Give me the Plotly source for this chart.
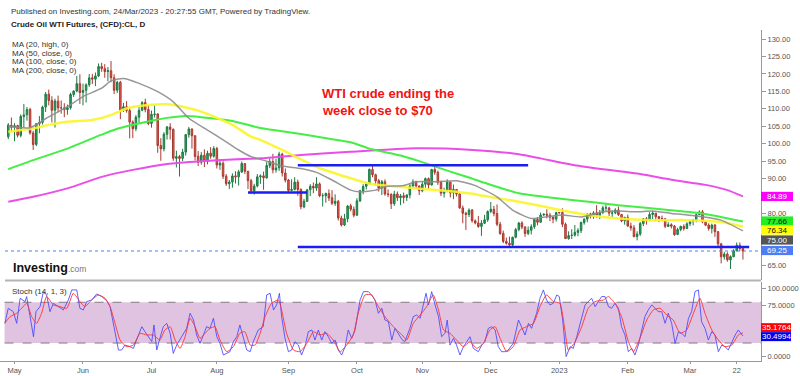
import plotly.graph_objects as go
import pandas as pd

# ---------------- data ----------------
dates = pd.bdate_range("2022-04-28", "2023-03-24")

opens = [102.0, 105.3,
    104.7, 105.2, 102.4, 107.8, 108.3, 109.8, 103.1, 99.8, 105.7, 106.1, 110.5, 114.2, 112.4, 109.6, 112.2, 110.3, 110.3, 109.8, 110.3, 114.1, 115.1, 117.2,
    114.7, 115.3, 116.9, 118.9, 118.5, 119.4, 122.1, 121.5, 120.7, 120.9, 118.9, 115.3, 117.6, 109.6, 110.6, 109.5, 106.2, 104.3, 107.6, 109.6, 111.8, 109.8,
    105.8, 108.4, 108.5, 99.5, 98.5, 102.7, 104.8, 104.1, 95.8, 96.3, 95.8, 97.6, 102.6, 104.2, 102.3, 96.4, 94.7, 96.7, 95.0, 97.3, 96.4,
    98.6, 93.9, 94.4, 90.7, 88.5, 89.0, 90.8, 90.5, 91.9, 94.3, 92.1, 89.4, 86.5, 87.9, 90.5, 90.8, 90.2, 93.7, 94.9, 92.5, 93.1, 97.0, 91.6,
    89.6, 86.6, 86.9, 89.0, 86.9, 81.9, 83.5, 86.8, 87.8, 87.3, 88.5, 85.1, 85.1, 85.7, 84.5, 82.9, 83.5, 78.7, 76.7, 78.5, 82.2, 81.2,
    79.5, 83.6, 86.5, 87.8, 88.5, 92.6, 91.1, 89.4, 87.3, 89.1, 85.6, 85.5, 82.8, 85.6, 84.5, 85.1, 84.6, 85.3, 87.9, 89.1, 87.9,
    86.5, 88.4, 90.0, 88.2, 92.6, 91.8, 88.9, 85.8, 86.5, 89.0, 85.9, 86.9, 85.6, 81.6, 80.1, 79.7, 81.0, 77.9, 77.3, 76.3, 77.2, 78.2,
    80.6, 81.2, 80.0, 76.9, 74.3, 72.0, 71.5, 71.0, 73.2, 75.4, 77.3, 76.1, 74.3, 75.2, 76.2, 78.3, 77.5, 79.6, 79.8, 79.5, 79.0, 78.4,
    80.3, 80.3, 76.9, 72.8, 73.7, 73.8, 74.6, 75.1, 77.4, 78.4, 79.9, 79.2, 80.2, 79.5, 80.3, 81.6, 81.6, 80.1, 80.2, 81.0, 79.7, 77.9,
    78.9, 76.4, 75.9, 73.4, 74.1, 77.1, 78.5, 78.1, 79.7, 80.1, 79.1, 78.6, 78.5, 76.3, 76.8, 76.4, 74.0, 75.4, 76.3, 75.7,
    77.1, 77.7, 78.2, 79.7, 80.5, 77.6, 76.7, 75.7, 76.7, 74.8, 71.3, 67.6, 68.4, 66.7, 67.6, 69.3, 70.9, 70.0]

highs = [105.9, 107.5,
    105.9, 105.4, 108.4, 111.4, 110.5, 110.3, 103.7, 105.9, 107.9, 110.9, 114.8, 115.5, 113.6, 112.9, 113.8, 112.4, 111.6, 111.2, 114.6, 115.3, 119.4, 119.9,
    117.2, 117.3, 120.0, 120.0, 120.4, 123.0, 123.2, 122.8, 122.0, 123.7, 119.9, 118.0, 118.0, 111.7, 112.2, 110.3, 106.7, 108.2, 110.5, 112.2, 112.9, 111.1,
    109.5, 111.0, 108.8, 101.6, 103.3, 105.1, 105.9, 104.4, 98.0, 96.8, 98.5, 102.8, 104.8, 104.4, 102.3, 97.9, 97.6, 98.4, 98.0, 99.0, 99.3,
    99.1, 95.1, 95.0, 91.3, 89.6, 91.5, 92.1, 92.5, 94.9, 94.4, 92.2, 89.9, 88.5, 91.3, 91.2, 92.0, 94.7, 95.8, 97.1, 95.7, 97.7, 97.4, 92.9,
    89.9, 89.8, 90.4, 89.7, 87.2, 84.2, 87.0, 88.4, 88.9, 90.4, 88.9, 85.8, 86.0, 86.9, 86.7, 85.5, 83.9, 79.4, 79.9, 82.4, 82.8, 82.0,
    84.4, 86.8, 88.4, 89.0, 92.9, 93.6, 91.4, 89.9, 89.6, 89.8, 86.9, 85.8, 86.5, 86.3, 85.6, 86.0, 85.5, 88.4, 89.8, 89.4, 88.0,
    89.3, 90.3, 90.3, 92.8, 93.7, 92.3, 89.4, 87.4, 89.8, 89.1, 88.3, 87.0, 85.9, 82.3, 80.5, 81.5, 81.3, 78.3, 79.3, 78.1, 79.6, 80.9,
    83.3, 82.2, 82.6, 77.6, 75.1, 73.1, 73.4, 73.4, 75.9, 77.6, 77.8, 76.4, 76.3, 76.9, 78.3, 79.0, 80.3, 80.0, 81.2, 80.2, 79.1, 80.5,
    80.3, 81.5, 77.4, 74.9, 75.5, 76.7, 75.8, 77.7, 78.6, 80.0, 80.2, 80.7, 82.4, 81.0, 82.2, 82.6, 81.9, 80.9, 81.5, 82.0, 79.9, 79.1,
    79.7, 77.4, 76.7, 74.9, 77.6, 78.7, 79.0, 80.4, 80.7, 80.1, 79.2, 79.4, 78.6, 77.5, 77.2, 76.7, 75.9, 76.5, 76.9, 77.5,
    78.0, 78.4, 80.0, 80.9, 81.0, 77.9, 77.2, 77.1, 77.0, 75.0, 71.6, 69.0, 68.9, 68.0, 69.8, 71.7, 71.7, 70.1]

lows = [101.3, 103.4,
    100.7, 101.8, 101.8, 104.6, 106.6, 102.6, 98.2, 99.3, 103.0, 105.5, 109.1, 111.0, 106.1, 104.6, 109.0, 108.6, 107.6, 108.3, 109.8, 113.4, 114.7, 111.4,
    111.0, 111.8, 116.3, 117.1, 116.5, 119.1, 120.6, 118.9, 117.9, 117.6, 114.2, 114.5, 107.0, 109.1, 108.9, 101.5, 101.6, 103.6, 106.0, 109.3, 109.0, 105.3,
    104.6, 107.5, 97.4, 95.1, 97.8, 101.2, 101.2, 95.1, 93.2, 90.6, 95.0, 96.6, 101.7, 98.6, 95.2, 93.6, 94.0, 93.3, 94.1, 95.7, 96.0,
    92.9, 92.5, 89.9, 87.9, 87.0, 87.4, 88.6, 88.0, 91.6, 91.3, 87.0, 85.7, 85.4, 87.5, 88.5, 86.8, 90.0, 93.0, 91.5, 91.7, 92.2, 90.6, 88.9,
    86.1, 86.4, 86.6, 85.1, 81.2, 81.5, 83.3, 85.0, 85.8, 86.5, 84.7, 82.0, 83.1, 83.6, 82.4, 82.2, 78.0, 76.3, 76.4, 77.5, 80.6, 78.9,
    79.4, 83.3, 85.5, 86.9, 88.4, 90.4, 88.0, 86.3, 85.3, 85.1, 84.7, 81.3, 82.2, 83.6, 82.4, 82.9, 83.6, 84.3, 87.3, 87.3, 85.3,
    86.1, 87.4, 87.0, 88.0, 91.1, 88.2, 85.0, 84.6, 86.1, 84.6, 84.1, 84.9, 81.3, 77.2, 75.3, 79.0, 77.4, 76.9, 75.9, 73.6, 77.0, 77.6,
    80.1, 79.2, 76.4, 73.9, 71.5, 71.1, 70.1, 70.5, 72.9, 74.9, 75.5, 73.3, 73.8, 74.0, 75.6, 76.6, 77.4, 79.3, 78.6, 77.8, 77.2, 77.7,
    80.0, 76.1, 72.7, 72.5, 72.7, 73.4, 73.5, 74.4, 76.8, 77.5, 78.6, 78.5, 78.8, 78.4, 79.8, 80.5, 79.3, 79.0, 79.8, 79.3, 77.5, 76.8,
    76.2, 75.1, 73.2, 72.3, 73.6, 76.4, 76.8, 77.8, 78.4, 77.8, 77.5, 77.8, 75.8, 76.2, 75.7, 73.6, 73.8, 74.9, 75.1, 75.6,
    76.4, 76.6, 77.5, 79.5, 77.2, 76.4, 75.1, 74.3, 73.3, 70.6, 65.7, 66.8, 66.2, 64.1, 67.5, 69.2, 69.3, 66.8]

closes = [105.36, 104.69,
    105.17, 102.41, 107.81, 108.26, 109.77, 103.09, 99.76, 105.71, 106.13, 110.49, 114.20, 112.40, 109.59, 112.21, 110.28, 110.29, 109.77, 110.33, 114.09, 115.07, 117.20, 114.67,
    115.26, 116.87, 118.87, 118.50, 119.41, 122.11, 121.51, 120.67, 120.93, 118.93, 115.31, 117.59, 109.56, 110.60, 109.52, 106.19, 104.27, 107.62, 109.57, 111.76, 109.78, 105.76,
    108.43, 108.50, 99.50, 98.53, 102.73, 104.79, 104.09, 95.84, 96.30, 95.78, 97.59, 102.60, 104.22, 102.26, 96.35, 94.70, 96.70, 94.98, 97.26, 96.42, 98.62,
    93.89, 94.42, 90.66, 88.54, 89.01, 90.76, 90.50, 91.93, 94.34, 92.09, 89.41, 86.53, 87.85, 90.50, 90.77, 90.23, 93.74, 94.89, 92.52, 93.06, 97.01, 91.64, 89.55,
    86.61, 86.87, 89.00, 86.88, 81.94, 83.54, 86.79, 87.78, 87.31, 88.48, 85.10, 85.11, 85.73, 84.45, 82.94, 83.49, 78.74, 76.71, 78.50, 82.15, 81.23, 79.49,
    83.63, 86.52, 87.76, 88.45, 92.64, 91.13, 89.35, 87.27, 89.11, 85.61, 85.46, 82.82, 85.55, 84.51, 85.05, 84.58, 85.32, 87.91, 89.08, 87.90, 86.53,
    88.37, 90.00, 88.17, 92.61, 91.79, 88.91, 85.83, 86.47, 88.96, 85.87, 86.92, 85.59, 81.64, 80.08, 79.73, 80.95, 77.94, 77.30, 76.28, 77.24, 78.20, 80.55,
    81.22, 79.98, 76.93, 74.25, 72.01, 71.46, 71.02, 73.17, 75.39, 77.28, 76.11, 74.29, 75.19, 76.23, 78.29, 77.49, 79.56, 79.80, 79.53, 78.96, 78.40, 80.26,
    80.20, 76.93, 72.84, 73.67, 73.77, 74.63, 75.12, 77.41, 78.39, 79.86, 79.20, 80.18, 79.48, 80.33, 81.64, 81.62, 80.13, 80.15, 81.01, 79.68, 77.90, 78.87,
    76.41, 75.88, 73.39, 74.11, 77.14, 78.47, 78.06, 79.72, 80.14, 79.06, 78.59, 78.49, 76.34, 76.80, 76.36, 73.95, 75.39, 76.32, 75.68, 77.05,
    77.69, 78.16, 79.68, 80.46, 77.58, 76.66, 75.72, 76.68, 74.80, 71.33, 67.61, 68.35, 66.74, 67.64, 69.33, 70.90, 69.96, 69.26]

# moving averages (bar number, value)
ma20_idx = [0, 7, 13, 19, 24, 30, 33, 37, 42, 48, 53, 58, 64, 69, 74, 78, 83, 88, 94, 99, 104, 110, 113, 118, 121, 127, 131, 138, 144, 150, 157, 162, 168, 173, 178, 184, 191, 196, 202, 207, 213, 218, 223, 229, 236]
ma20_val = [105.0, 104.6, 107.7, 110.6, 113.5, 115.9, 118.0, 118.7, 117.3, 114.9, 112.0, 107.3, 103.9, 101.1, 98.2, 96.3, 95.0, 93.6, 92.9, 91.8, 89.6, 86.7, 86.2, 86.7, 87.7, 88.0, 89.1, 89.1, 89.4, 88.0, 84.8, 81.0, 78.6, 79.1, 79.6, 79.0, 80.5, 80.7, 80.5, 80.7, 80.0, 79.6, 79.1, 78.1, 75.0]
ma50_idx = [0, 8, 13, 19, 27, 33, 38, 45, 51, 56, 62, 72, 78, 81, 88, 99, 110, 116, 121, 131, 142, 148, 153, 164, 172, 176, 186, 196, 207, 218, 229, 236]
ma50_val = [103.4, 104.4, 105.4, 106.3, 106.8, 108.2, 110.1, 111.1, 111.3, 110.6, 109.2, 105.4, 102.0, 101.1, 98.2, 93.4, 90.1, 88.6, 88.0, 87.2, 86.4, 85.8, 85.0, 83.4, 82.0, 81.2, 79.6, 78.6, 78.1, 78.1, 77.6, 76.3]
ma100_idx = [0, 8, 19, 30, 35, 46, 51, 56, 62, 72, 81, 94, 104, 110, 116, 126, 132, 142, 148, 153, 164, 174, 181, 196, 212, 223, 236]
ma100_val = [92.7, 95.3, 98.6, 102.6, 104.3, 106.6, 107.4, 107.9, 107.6, 106.5, 104.5, 102.8, 101.3, 100.4, 98.6, 96.6, 95.0, 92.0, 90.3, 88.8, 85.8, 84.6, 83.9, 82.4, 81.0, 80.0, 77.7]
ma200_idx = [0, 8, 19, 30, 40, 51, 62, 72, 81, 94, 110, 131, 148, 164, 171, 181, 192, 203, 213, 224, 231, 236]
ma200_val = [83.4, 84.8, 87.2, 90.5, 92.5, 94.2, 95.0, 95.5, 95.8, 96.8, 97.7, 98.7, 98.3, 97.0, 95.8, 94.0, 92.6, 91.3, 89.7, 88.2, 86.7, 84.9]

# stochastic (14,1,3)
stoch_k_idx = [-1.1, 0.0, 1.6, 2.7, 3.8, 5.4, 5.9, 8.1, 8.9, 10.2, 11.3, 12.3, 13.4, 14.5, 16.1, 17.7, 19.3, 20.4, 22.0, 23.0, 24.1, 25.2, 26.8, 28.4, 30.0, 31.6, 32.7, 34.3, 35.4, 36.4, 37.5, 39.1, 40.2, 41.2, 42.9, 43.9, 45.0, 46.1, 46.8, 47.7, 48.7, 49.8, 50.9, 52.0, 53.0, 54.1, 55.7, 57.3, 58.4, 59.5, 60.5, 61.6, 62.7, 63.7, 64.8, 65.9, 67.0, 68.0, 69.1, 70.2, 71.2, 72.3, 73.4, 74.4, 75.5, 76.6, 77.7, 78.7, 80.3, 81.9, 83.0, 84.1, 85.2, 86.2, 87.1, 87.8, 88.9, 90.0, 91.0, 92.1, 93.2, 94.2, 95.3, 96.4, 97.5, 98.5, 99.6, 100.7, 101.7, 102.8, 103.9, 105.0, 106.0, 107.1, 108.2, 109.2, 110.3, 111.4, 113.0, 114.1, 115.7, 116.7, 117.8, 118.9, 120.0, 121.0, 122.1, 123.2, 124.2, 125.3, 126.5, 127.4, 129.0, 130.1, 131.2, 132.3, 133.3, 134.2, 135.0, 136.0, 137.1, 138.2, 139.2, 140.3, 141.0, 141.9, 143.0, 144.0, 145.1, 146.2, 147.3, 148.3, 149.4, 151.0, 152.1, 153.1, 154.2, 155.3, 156.4, 157.4, 158.5, 159.6, 160.6, 162.2, 163.9, 164.9, 166.0, 167.1, 168.1, 169.7, 170.8, 171.9, 172.9, 174.0, 175.1, 176.2, 177.0, 178.1, 179.2, 180.5, 181.5, 182.6, 184.2, 185.3, 186.3, 187.4, 188.5, 189.6, 190.6, 191.7, 192.8, 193.8, 194.9, 196.0, 197.0, 198.1, 199.2, 200.3, 201.3, 202.4, 203.5, 204.5, 205.6, 206.7, 207.8, 208.8, 209.9, 211.0, 212.0, 213.1, 214.2, 215.3, 216.3, 217.4, 218.5, 219.5, 220.6, 221.7, 222.7, 223.8, 224.9, 226.0, 227.0, 228.1, 229.2, 230.2, 231.3, 232.4, 233.5, 234.5, 235.6, 236.0]
stoch_k_val = [49.0, 71.2, 66.2, 49.0, 85.9, 81.0, 88.4, 29.3, 66.2, 73.6, 95.7, 90.8, 66.2, 78.5, 73.6, 68.7, 83.4, 98.2, 98.2, 71.2, 68.7, 81.0, 83.4, 92.3, 88.4, 82.5, 73.6, 34.3, 9.7, 9.7, 17.0, 14.6, 12.1, 24.4, 44.1, 36.7, 29.3, 22.0, 46.6, 9.7, 26.9, 44.1, 49.0, 34.3, 4.7, 17.0, 29.3, 41.6, 63.8, 53.9, 31.8, 19.5, 31.8, 44.1, 41.6, 56.4, 29.3, 19.5, 2.3, 4.7, 7.2, 22.0, 29.3, 46.6, 29.3, 9.7, 7.2, 22.0, 39.2, 44.1, 90.8, 93.3, 68.7, 76.1, 93.3, 58.9, 26.9, 7.2, 9.7, 22.0, 17.0, 2.3, 14.6, 36.7, 39.2, 24.4, 39.2, 24.4, 36.7, 29.3, 19.5, 24.4, 9.7, 2.3, 14.6, 39.2, 26.9, 39.2, 83.4, 95.7, 95.7, 90.8, 83.4, 63.8, 71.2, 53.9, 51.5, 24.4, 41.6, 33.0, 25.0, 22.0, 41.6, 58.9, 61.3, 56.4, 73.6, 93.3, 76.1, 95.7, 76.1, 58.9, 29.3, 34.3, 53.9, 17.0, 26.9, 17.0, 2.3, 14.6, 22.0, 29.3, 12.1, 7.2, 17.0, 22.0, 41.6, 44.1, 39.2, 14.6, 7.2, 7.2, 9.7, 19.5, 53.9, 44.1, 31.8, 49.0, 41.6, 63.8, 85.9, 98.2, 83.4, 76.1, 78.5, 90.8, 88.4, 53.9, 0.0, 14.6, 12.1, 29.3, 58.9, 76.1, 81.0, 85.9, 73.6, 81.0, 88.4, 88.4, 73.6, 71.2, 78.5, 71.2, 44.1, 31.8, 7.2, 12.1, 2.3, 17.0, 39.2, 58.9, 68.7, 76.1, 71.2, 66.2, 66.2, 49.0, 63.8, 49.0, 19.5, 36.7, 34.3, 29.3, 56.4, 66.2, 95.7, 98.2, 51.5, 41.6, 24.4, 36.7, 31.8, 7.2, 17.0, 14.6, 9.7, 22.0, 31.8, 39.2, 31.8, 30.4994]
stoch_d_idx = [-1.1, 0.6, 2.7, 4.3, 5.9, 7.5, 9.1, 10.7, 12.3, 14.5, 16.6, 18.8, 20.9, 23.0, 24.6, 26.8, 28.9, 31.1, 32.7, 34.3, 35.9, 38.0, 40.2, 42.3, 44.5, 46.6, 48.7, 50.3, 52.0, 53.6, 55.2, 56.8, 58.4, 60.0, 61.6, 63.2, 64.8, 66.4, 68.0, 70.2, 72.3, 74.4, 76.0, 77.7, 79.3, 80.9, 82.5, 84.6, 86.8, 87.8, 89.4, 91.6, 93.7, 95.9, 98.0, 100.1, 102.3, 104.4, 106.6, 108.7, 110.8, 112.4, 114.6, 116.7, 118.9, 121.0, 123.2, 125.3, 126.5, 128.0, 130.1, 132.3, 134.4, 136.5, 138.2, 139.8, 141.9, 144.0, 146.2, 148.3, 150.5, 152.6, 154.7, 156.4, 158.0, 160.1, 162.2, 164.4, 166.5, 168.7, 170.8, 172.9, 175.1, 177.2, 178.8, 179.9, 182.1, 184.2, 186.3, 188.5, 191.2, 192.8, 194.9, 197.0, 199.2, 200.8, 202.9, 205.1, 207.2, 209.4, 211.5, 213.6, 215.8, 217.9, 220.1, 222.2, 223.8, 226.0, 228.1, 230.2, 232.4, 234.5, 236.0]
stoch_d_val = [49.0, 58.9, 63.8, 71.2, 78.5, 58.9, 49.0, 63.8, 88.4, 76.1, 73.6, 71.2, 93.3, 81.0, 73.6, 83.4, 90.8, 85.9, 73.6, 49.0, 24.4, 14.6, 17.0, 34.3, 31.8, 31.8, 24.4, 39.2, 44.1, 24.4, 12.1, 29.3, 56.4, 44.1, 26.9, 34.3, 41.6, 44.1, 24.4, 7.2, 14.6, 34.3, 36.7, 17.0, 17.0, 34.3, 58.9, 78.5, 83.4, 68.7, 34.3, 9.7, 7.2, 19.5, 36.7, 31.8, 34.3, 24.4, 7.2, 17.0, 31.8, 63.8, 90.8, 90.8, 73.6, 58.9, 46.6, 36.7, 32.0, 24.4, 49.0, 61.3, 73.6, 90.8, 68.7, 39.2, 34.3, 24.4, 14.6, 22.0, 12.1, 19.5, 39.2, 44.1, 26.9, 7.2, 14.6, 39.2, 44.1, 49.0, 73.6, 90.8, 81.0, 78.5, 39.2, 9.7, 22.0, 44.1, 71.2, 81.0, 83.4, 88.4, 78.5, 58.9, 22.0, 7.2, 26.9, 53.9, 68.7, 71.2, 61.3, 53.9, 34.3, 39.2, 63.8, 85.9, 63.8, 39.2, 24.4, 14.6, 17.0, 31.8, 35.1764]

# drawn horizontal levels (price, from bar, to bar)
level_val = [93.8, 86.0, 70.4]
level_from = [93, 77, 93]
level_to = [167, 96, 238]

last_price = 69.25
price_tags = ["84.89", "77.66", "76.34", "75.00", "69.25"]
stoch_tags = ["35.1764", "30.4994"]
price_ticks = [65, 80, 90, 95, 100, 105, 110, 115, 120, 125, 130]
stoch_ticks = [0, 75, 100]
stoch_tick_text = ["0.0000", "75.0000", "100.0000"]

# ---------------- figure ----------------
W, H = 800, 376
FONT = "Liberation Sans, Arial, sans-serif"
bars = list(range(len(dates)))

tick_idx, tick_txt = [], []
for i in range(1, len(dates)):
    if dates[i].month != dates[i - 1].month:
        tick_idx.append(i)
        tick_txt.append(str(dates[i].year) if dates[i].month == 1 else dates[i].strftime("%b"))
i22 = [i for i, d in enumerate(dates) if d.month == 3 and d.year == 2023 and d.day == 22][0]
tick_idx.append(i22)
tick_txt.append("22")

def px(x):
    return x / W

def py(y):
    return 1 - y / H

XR = [-2.66, 241.8]
XD = [0, 761 / W]
PY_RANGE = [60.95, 132.58]          # 250 px tall panel
ST_RANGE = [-6.49, 109.88]          # 79 px tall panel
PPX = (PY_RANGE[1] - PY_RANGE[0]) / 250.0
SPX = (ST_RANGE[1] - ST_RANGE[0]) / 79.0

fig = go.Figure()
fig.add_trace(go.Candlestick(
    x=bars, open=opens, high=highs, low=lows, close=closes,
    xaxis="x", yaxis="y", whiskerwidth=0, showlegend=False, hoverinfo="skip",
    increasing=dict(line=dict(color="#1e7a44", width=1), fillcolor="#22ab5c"),
    decreasing=dict(line=dict(color="#a8392f", width=1), fillcolor="#ee5a50"),
))

for idx, val, col, w in [
    (ma200_idx, ma200_val, "#ea4ee8", 2.0),
    (ma100_idx, ma100_val, "#44ee44", 2.0),
    (ma50_idx, ma50_val, "rgba(250,245,40,0.9)", 2.5),
    (ma20_idx, ma20_val, "rgba(140,140,140,0.9)", 1.5),
]:
    fig.add_trace(go.Scatter(x=idx, y=val, mode="lines", xaxis="x", yaxis="y",
                             line=dict(color=col, width=w, shape="spline", smoothing=0.6),
                             showlegend=False, hoverinfo="skip"))

for v, a, b in zip(level_val, level_from, level_to):
    fig.add_trace(go.Scatter(x=[a, b], y=[v, v], mode="lines", xaxis="x", yaxis="y",
                             line=dict(color="#1c1cf5", width=2.5),
                             showlegend=False, hoverinfo="skip"))

fig.add_trace(go.Scatter(x=stoch_k_idx, y=stoch_k_val, mode="lines", xaxis="x2", yaxis="y2",
                         line=dict(color="rgba(70,70,255,0.85)", width=1),
                         showlegend=False, hoverinfo="skip"))
fig.add_trace(go.Scatter(x=stoch_d_idx, y=stoch_d_val, mode="lines", xaxis="x2", yaxis="y2",
                         line=dict(color="rgba(255,50,50,0.9)", width=1, shape="spline", smoothing=0.5),
                         showlegend=False, hoverinfo="skip"))

axfont = dict(family=FONT, size=7.5, color="#555")
fig.update_layout(
    width=W, height=H, margin=dict(l=0, r=0, t=0, b=0),
    paper_bgcolor="white", plot_bgcolor="white", showlegend=False,
    xaxis=dict(domain=XD, range=XR, anchor="y", showticklabels=False, showgrid=False,
               zeroline=False, showline=False, ticks="", rangeslider=dict(visible=False),
               fixedrange=True),
    xaxis2=dict(domain=XD, range=XR, anchor="y2", matches="x", tickmode="array",
                tickvals=tick_idx, ticktext=tick_txt, showgrid=False, zeroline=False,
                showline=True, linecolor="#999", linewidth=1, ticks="outside", ticklen=2,
                tickcolor="#999", tickfont=axfont, rangeslider=dict(visible=False)),
    yaxis=dict(domain=[py(280), py(30)], range=PY_RANGE, anchor="x", side="right",
               showgrid=False, zeroline=False, showline=True, linecolor="#999", linewidth=1,
               ticks="outside", ticklen=4, tickcolor="#999", tickmode="array",
               tickvals=price_ticks, tickformat=".2f", tickfont=axfont, automargin=False),
    yaxis2=dict(domain=[py(361), py(282)], range=ST_RANGE, anchor="x2", side="right",
                showgrid=False, zeroline=False, showline=True, linecolor="#999", linewidth=1,
                ticks="outside", ticklen=4, tickcolor="#999", tickmode="array",
                tickvals=stoch_ticks, ticktext=stoch_tick_text, tickfont=axfont,
                automargin=False),
)

shapes = [
    dict(type="rect", xref="x2 domain", yref="y2", x0=0.006, x1=1, y0=20, y1=80,
         fillcolor="#e0c3e1", line=dict(width=0), layer="below"),
    dict(type="line", xref="x2 domain", yref="y2", x0=0.006, x1=1, y0=80, y1=80,
         line=dict(color="#847a86", width=1, dash="dash"), layer="below"),
    dict(type="line", xref="x2 domain", yref="y2", x0=0.006, x1=1, y0=20, y1=20,
         line=dict(color="#847a86", width=1, dash="dash"), layer="below"),
    dict(type="line", xref="paper", yref="paper", x0=px(5), x1=px(761), y0=py(280.5), y1=py(280.5),
         line=dict(color="#b4b4b4", width=2)),
    dict(type="line", xref="paper", yref="y", x0=px(5), x1=px(761), y0=last_price, y1=last_price,
         line=dict(color="#4d7cff", width=1, dash="dot")),
]

ann = []
def text(x, y, s, size, color="#333", anchor="left", **kw):
    ann.append(dict(xref="paper", yref="paper", x=px(x), y=py(y), text=s, showarrow=False,
                    xanchor=anchor, yanchor="middle", font=dict(family=FONT, size=size, color=color), **kw))

text(9, 11, "Published on Investing.com, 24/Mar/2023 - 20:27:55 GMT, Powered by TradingView.", 8, "#333")
text(9, 25, "<b>Crude Oil WTI Futures, (CFD):CL, D</b>", 8, "#222")
text(10, 45, "MA (20, high, 0)", 8, "#333")
text(10, 53.5, "MA (50, close, 0)", 8, "#333")
text(10, 62, "MA (100, close, 0)", 8, "#333")
text(10, 70.5, "MA (200, close, 0)", 8, "#333")
text(320, 93, "<b>WTI crude ending the</b>", 13, "#f01414")
text(320, 110, "<b>week close to $70</b>", 13, "#f01414")
text(11, 267.5, "<b>Investing</b><span style='font-size:8.5px;color:#777'>.com</span>", 12.5, "#111")
text(10, 291, "Stoch (14, 1, 3)", 8, "#333")

# value tags on the right axes: background boxes as shapes, text as annotations
tag_style = [("#ff00ff", "white", 84.89), ("#22ee22", "#111", 77.85), ("#ffff00", "#111", 75.27),
             ("#555555", "white", 72.41), ("#4d7cf5", "white", 69.40)]
for t, (bg, fg, yv) in zip(price_tags, tag_style):
    shapes.append(dict(type="rect", xref="paper", yref="y", x0=px(761), x1=px(793),
                       y0=yv - 4.6 * PPX, y1=yv + 4.6 * PPX, fillcolor=bg, line=dict(width=0)))
    ann.append(dict(xref="paper", yref="y", x=px(777), y=yv, text=t, showarrow=False,
                    xanchor="center", yanchor="middle", borderpad=0,
                    font=dict(family=FONT, size=8, color=fg)))
for t, (bg, yv) in zip(stoch_tags, [("#ff0000", 42.6), ("#0000ee", 29.4)]):
    shapes.append(dict(type="rect", xref="paper", yref="y2", x0=px(761), x1=px(791),
                       y0=yv - 4.5 * SPX, y1=yv + 4.5 * SPX, fillcolor=bg, line=dict(width=0)))
    ann.append(dict(xref="paper", yref="y2", x=px(776), y=yv, text=t, showarrow=False,
                    xanchor="center", yanchor="middle", borderpad=0,
                    font=dict(family=FONT, size=8, color="white")))
fig.update_layout(shapes=shapes, annotations=ann)

fig.write_html("out.html", config={"displayModeBar": False},
               post_script="document.body.style.margin='0px';document.body.style.padding='0px';")
